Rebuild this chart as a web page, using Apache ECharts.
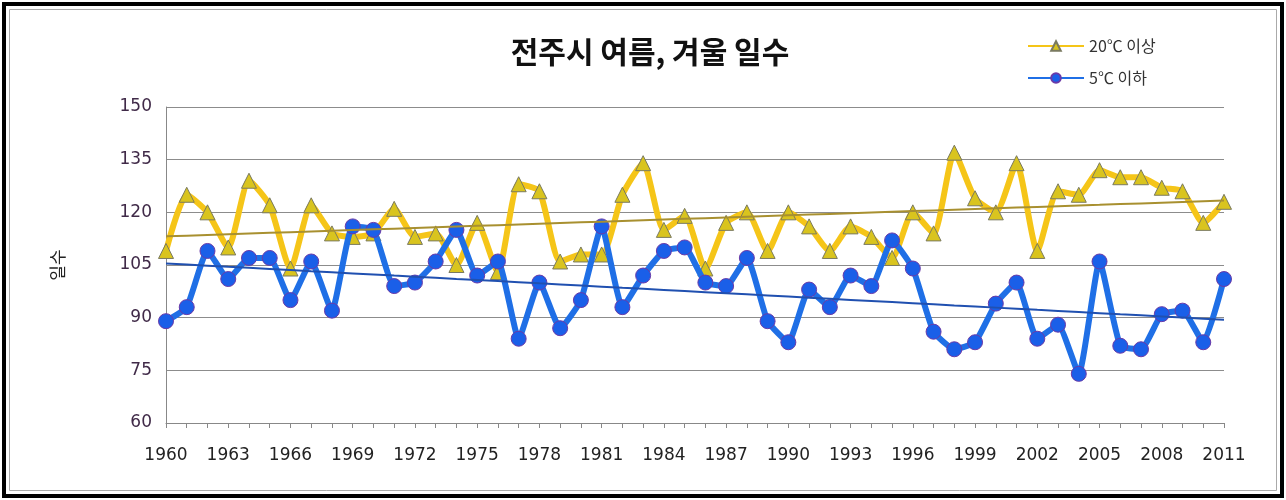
<!DOCTYPE html>
<html>
<head>
<meta charset="utf-8">
<script src="https://cdn.jsdelivr.net/npm/echarts@6/dist/echarts.min.js"></script>
<style>
  html, body { margin: 0; padding: 0; background: #fff; }
  #chart { width: 1286px; height: 500px; }
</style>
</head>
<body>
<div id="chart"></div>
<script>
// years 1960 - 2011
var years = [];
for (var y = 1960; y <= 2011; y++) years.push(String(y));

// 20℃ 이상 일수
var hotDays = [109, 125, 120, 110, 129, 122, 104, 122, 114, 113,
  114, 121, 113, 114, 105, 117, 103, 128, 126, 106,
  108, 108, 125, 134, 115, 119, 104, 117, 120, 109,
  120, 116, 109, 116, 113, 107, 120, 114, 137, 124,
  120, 134, 109, 126, 125, 132, 130, 130, 127, 126,
  117, 123];

// 5℃ 이하 일수
var coldDays = [89, 93, 109, 101, 107, 107, 95, 106, 92, 116,
  115, 99, 100, 106, 115, 102, 106, 84, 100, 87,
  95, 116, 93, 102, 109, 110, 100, 99, 107, 89,
  83, 98, 93, 102, 99, 112, 104, 86, 81, 83,
  94, 100, 84, 88, 74, 106, 82, 81, 91, 92,
  83, 101];

var yTicks = [60, 75, 90, 105, 120, 135, 150];

// linear trend (least squares), like the spreadsheet trendline
function trend(vals) {
  var n = vals.length, sx = 0, sy = 0, sxy = 0, sxx = 0;
  for (var i = 0; i < n; i++) {
    sx += i; sy += vals[i]; sxy += i * vals[i]; sxx += i * i;
  }
  var b = (n * sxy - sx * sy) / (n * sxx - sx * sx);
  var a = (sy - b * sx) / n;
  return vals.map(function (v, i) { return +(a + b * i).toFixed(2); });
}

var chart = echarts.init(document.getElementById('chart'));

var option = {
  backgroundColor: '#fff',
  animation: false,
  textStyle: { fontFamily: '"Noto Sans CJK KR", "DejaVu Sans", sans-serif' },
  graphic: [
    { type: 'rect', shape: { x: 4, y: 4, width: 1278, height: 492 },
      style: { fill: 'none', stroke: '#000', lineWidth: 4 } },
    { type: 'rect', shape: { x: 9.5, y: 9.5, width: 1267, height: 481 },
      style: { fill: 'none', stroke: '#aaa', lineWidth: 1 } }
  ],
  title: {
    text: '전주시 여름, 겨울 일수',
    left: 645, top: 32, textAlign: 'center',
    textStyle: { fontSize: 30, fontWeight: 'bold', color: '#111',
      fontFamily: '"Noto Sans CJK KR", sans-serif' }
  },
  legend: {
    orient: 'vertical',
    left: 1022, top: 33,
    itemWidth: 56, itemHeight: 12, itemGap: 16,
    textStyle: { fontSize: 16, color: '#333' },
    data: ['20℃ 이상', '5℃ 이하']
  },
  grid: { left: 166, right: 62, top: 107, bottom: 77 },
  xAxis: {
    type: 'category',
    data: years,
    boundaryGap: false,
    axisLine: { lineStyle: { color: '#888', width: 1 } },
    axisTick: { interval: 0, length: 5, lineStyle: { color: '#888' } },
    axisLabel: { interval: 2, margin: 24, fontSize: 17, color: '#222',
      fontFamily: '"DejaVu Sans", sans-serif' }
  },
  yAxis: {
    type: 'value',
    min: 60, max: 150, interval: 15,
    name: '일수',
    nameLocation: 'middle',
    nameRotate: 90,
    nameGap: 100,
    nameTextStyle: { fontSize: 17, color: '#222' },
    axisLine: { show: true, lineStyle: { color: '#888', width: 1 } },
    axisTick: { show: false },
    axisLabel: { margin: 14, fontSize: 17, color: '#402a48',
      fontFamily: '"DejaVu Sans", sans-serif',
      formatter: function (v) { return yTicks.indexOf(v) >= 0 ? v : ''; } },
    splitLine: { lineStyle: { color: '#8c8c8c', width: 1.2 } }
  },
  series: [
    {
      name: '20℃ 이상',
      type: 'line',
      data: hotDays,
      smooth: 0.2,
      showAllSymbol: true,
      symbol: 'triangle',
      symbolSize: 15,
      lineStyle: { color: '#f5c518', width: 6 },
      itemStyle: { color: '#d9c41e', borderColor: '#7a7a60', borderWidth: 1 },
      z: 3
    },
    {
      name: '5℃ 이하',
      type: 'line',
      data: coldDays,
      smooth: 0.15,
      showAllSymbol: true,
      symbol: 'circle',
      symbolSize: 15,
      lineStyle: { color: '#1f6fe6', width: 6 },
      itemStyle: { color: '#1a5fe8', borderColor: '#6a3aa8', borderWidth: 1 },
      z: 4
    },
    {
      name: 'hotTrend',
      type: 'line',
      data: trend(hotDays),
      symbol: 'none',
      lineStyle: { color: '#a89030', width: 2 },
      z: 5,
      silent: true
    },
    {
      name: 'coldTrend',
      type: 'line',
      data: trend(coldDays),
      symbol: 'none',
      lineStyle: { color: '#2050b0', width: 2 },
      z: 5,
      silent: true
    }
  ]
};

chart.setOption(option);
</script>
</body>
</html>
